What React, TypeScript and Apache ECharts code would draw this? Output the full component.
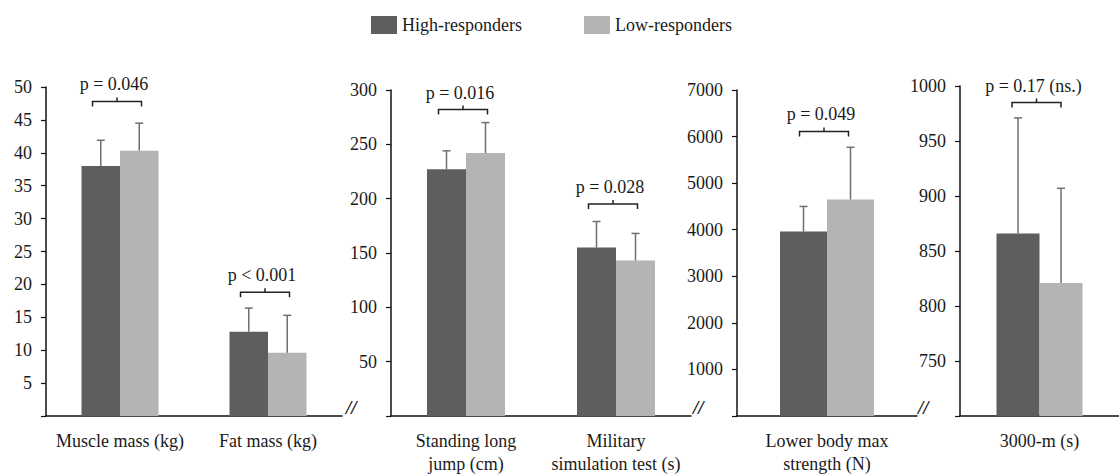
import React, { useEffect, useRef } from 'react';
import * as echarts from 'echarts';

// Group names shared by every panel
const groupNames = ['High-responders', 'Low-responders'];

// Body composition
const bodyCategories = ['Muscle mass (kg)', 'Fat mass (kg)'];
const bodyHigh = [38.0, 12.8];
const bodyHighSd = [3.9, 3.6];
const bodyLow = [40.3, 9.6];
const bodyLowSd = [4.2, 5.7];
const bodyBracketAt = [47.8, 18.8];
const bodyP = ['p = 0.046', 'p < 0.001'];

// Field tests
const fieldCategories = ['Standing long\njump (cm)', 'Military\nsimulation test (s)'];
const fieldHigh = [227, 155];
const fieldHighSd = [17, 24];
const fieldLow = [242, 143];
const fieldLowSd = [28, 25];
const fieldBracketAt = [282, 195];
const fieldP = ['p = 0.016', 'p = 0.028'];

// Strength
const strengthCategories = ['Lower body max\nstrength (N)'];
const strengthHigh = [3960];
const strengthHighSd = [540];
const strengthLow = [4650];
const strengthLowSd = [1120];
const strengthBracketAt = [6110];
const strengthP = ['p = 0.049'];

// Endurance
const runCategories = ['3000-m (s)'];
const runHigh = [866];
const runHighSd = [105];
const runLow = [821];
const runLowSd = [86];
const runBracketAt = [985];
const runP = ['p = 0.17 (ns.)'];

const FONT = 'Liberation Serif';
const TEXT = '#1a1a1a';
const DARK = '#5e5e5e';
const LIGHT = '#b4b4b4';
const WHISKER = '#6f6f6f';

const panels = [
  {
    categories: bodyCategories, high: bodyHigh, highSd: bodyHighSd, low: bodyLow, lowSd: bodyLowSd,
    bracketAt: bodyBracketAt, p: bodyP,
    grid: { left: 46, top: 87, width: 296, height: 329 },
    axis: { min: 0, max: 50, interval: 5 }, barWidth: 38.5,
  },
  {
    categories: fieldCategories, high: fieldHigh, highSd: fieldHighSd, low: fieldLow, lowSd: fieldLowSd,
    bracketAt: fieldBracketAt, p: fieldP,
    grid: { left: 391, top: 90, width: 300, height: 327 },
    axis: { min: 0, max: 300, interval: 50 }, barWidth: 39,
  },
  {
    categories: strengthCategories, high: strengthHigh, highSd: strengthHighSd, low: strengthLow, lowSd: strengthLowSd,
    bracketAt: strengthBracketAt, p: strengthP,
    grid: { left: 737, top: 90, width: 180, height: 327 },
    axis: { min: 0, max: 7000, interval: 1000 }, barWidth: 47,
  },
  {
    categories: runCategories, high: runHigh, highSd: runHighSd, low: runLow, lowSd: runLowSd,
    bracketAt: runBracketAt, p: runP,
    grid: { left: 960, top: 86, width: 164, height: 330 },
    axis: { min: 700, max: 1000, interval: 50 }, barWidth: 43,
  },
];

function errorBars(idx: number, values: number[], sds: number[], side: number, barWidth: number) {
  return {
    type: 'custom',
    xAxisIndex: idx,
    yAxisIndex: idx,
    silent: true,
    z: 4,
    data: values.map((v, i) => [i, v, v + sds[i]]),
    renderItem: (_params: any, api: any) => {
      const base = api.coord([api.value(0), api.value(1)]);
      const top = api.coord([api.value(0), api.value(2)]);
      const x = base[0] + (side * barWidth) / 2;
      const style = { stroke: WHISKER, lineWidth: 1.5 };
      return {
        type: 'group',
        children: [
          { type: 'line', shape: { x1: x, y1: base[1], x2: x, y2: top[1] }, style },
          { type: 'line', shape: { x1: x - 4, y1: top[1], x2: x + 4, y2: top[1] }, style },
        ],
      };
    },
  };
}

function brackets(idx: number, at: number[], labels: string[]) {
  return {
    type: 'custom',
    xAxisIndex: idx,
    yAxisIndex: idx,
    silent: true,
    z: 5,
    data: at.map((v, i) => [i, v]),
    renderItem: (params: any, api: any) => {
      const c = api.coord([api.value(0), api.value(1)]);
      const cx = c[0] - 3;
      const y = c[1];
      const half = 24.5;
      const style = { stroke: '#222', lineWidth: 1.5, fill: 'none' };
      return {
        type: 'group',
        children: [
          {
            type: 'polyline',
            shape: { points: [[cx - half, y + 5], [cx - half, y], [cx + half, y], [cx + half, y + 5]] },
            style,
          },
          { type: 'line', shape: { x1: cx, y1: y, x2: cx, y2: y - 4 }, style },
          {
            type: 'text',
            style: {
              text: labels[params.dataIndex],
              x: cx - 3,
              y: y - 17,
              align: 'center',
              verticalAlign: 'middle',
              fill: TEXT,
              font: `18px ${FONT}`,
            },
          },
        ],
      };
    },
  };
}

export default function App() {
  const ref = useRef<HTMLDivElement>(null);

  useEffect(() => {
    document.body.style.margin = '0';
    if (!ref.current) return;
    const chart = echarts.init(ref.current, undefined, { renderer: 'svg' });

    const series: any[] = [];
    panels.forEach((p, i) => {
      series.push({
        name: groupNames[0], type: 'bar', xAxisIndex: i, yAxisIndex: i,
        data: p.high, barWidth: p.barWidth, barGap: '0%', itemStyle: { color: DARK }, z: 2,
      });
      series.push({
        name: groupNames[1], type: 'bar', xAxisIndex: i, yAxisIndex: i,
        data: p.low, barWidth: p.barWidth, barGap: '0%', itemStyle: { color: LIGHT }, z: 2,
      });
      series.push(errorBars(i, p.high, p.highSd, -1, p.barWidth));
      series.push(errorBars(i, p.low, p.lowSd, 1, p.barWidth));
      series.push(brackets(i, p.bracketAt, p.p));
    });

    // axis break marks after the first three baselines
    const breakX = [346, 693, 918];

    chart.setOption({
      animation: false,
      backgroundColor: '#ffffff',
      textStyle: { fontFamily: FONT, color: TEXT },
      legend: {
        data: groupNames,
        left: 366,
        top: 11,
        icon: 'rect',
        itemWidth: 26,
        itemHeight: 18,
        itemGap: 62,
        textStyle: { fontSize: 18, fontFamily: FONT, color: TEXT },
      },
      grid: panels.map((p) => ({ ...p.grid, containLabel: false })),
      xAxis: panels.map((p, i) => ({
        type: 'category',
        gridIndex: i,
        data: p.categories,
        axisLine: { lineStyle: { color: '#111', width: 1.5 } },
        axisTick: { show: false },
        axisLabel: { fontSize: 18, fontFamily: FONT, color: TEXT, margin: 13, lineHeight: 23, interval: 0 },
        splitLine: { show: false },
      })),
      yAxis: panels.map((p, i) => ({
        type: 'value',
        gridIndex: i,
        min: p.axis.min,
        max: p.axis.max,
        interval: p.axis.interval,
        axisLine: { show: true, lineStyle: { color: '#111', width: 1.5 } },
        axisTick: { show: true, length: 5, lineStyle: { color: '#111', width: 1.2 } },
        axisLabel: {
          fontSize: 18,
          fontFamily: FONT,
          color: TEXT,
          margin: 14,
          formatter: (v: number) => (v === p.axis.min ? '' : String(v)),
        },
        splitLine: { show: false },
      })),
      graphic: breakX.map((x) => ({
        type: 'text',
        x,
        y: 398,
        style: { text: '//', font: `italic bold 19px ${FONT}`, fill: '#111' },
      })),
      series,
    });

    return () => chart.dispose();
  }, []);

  return <div ref={ref} style={{ width: 1119, height: 475 }} />;
}
